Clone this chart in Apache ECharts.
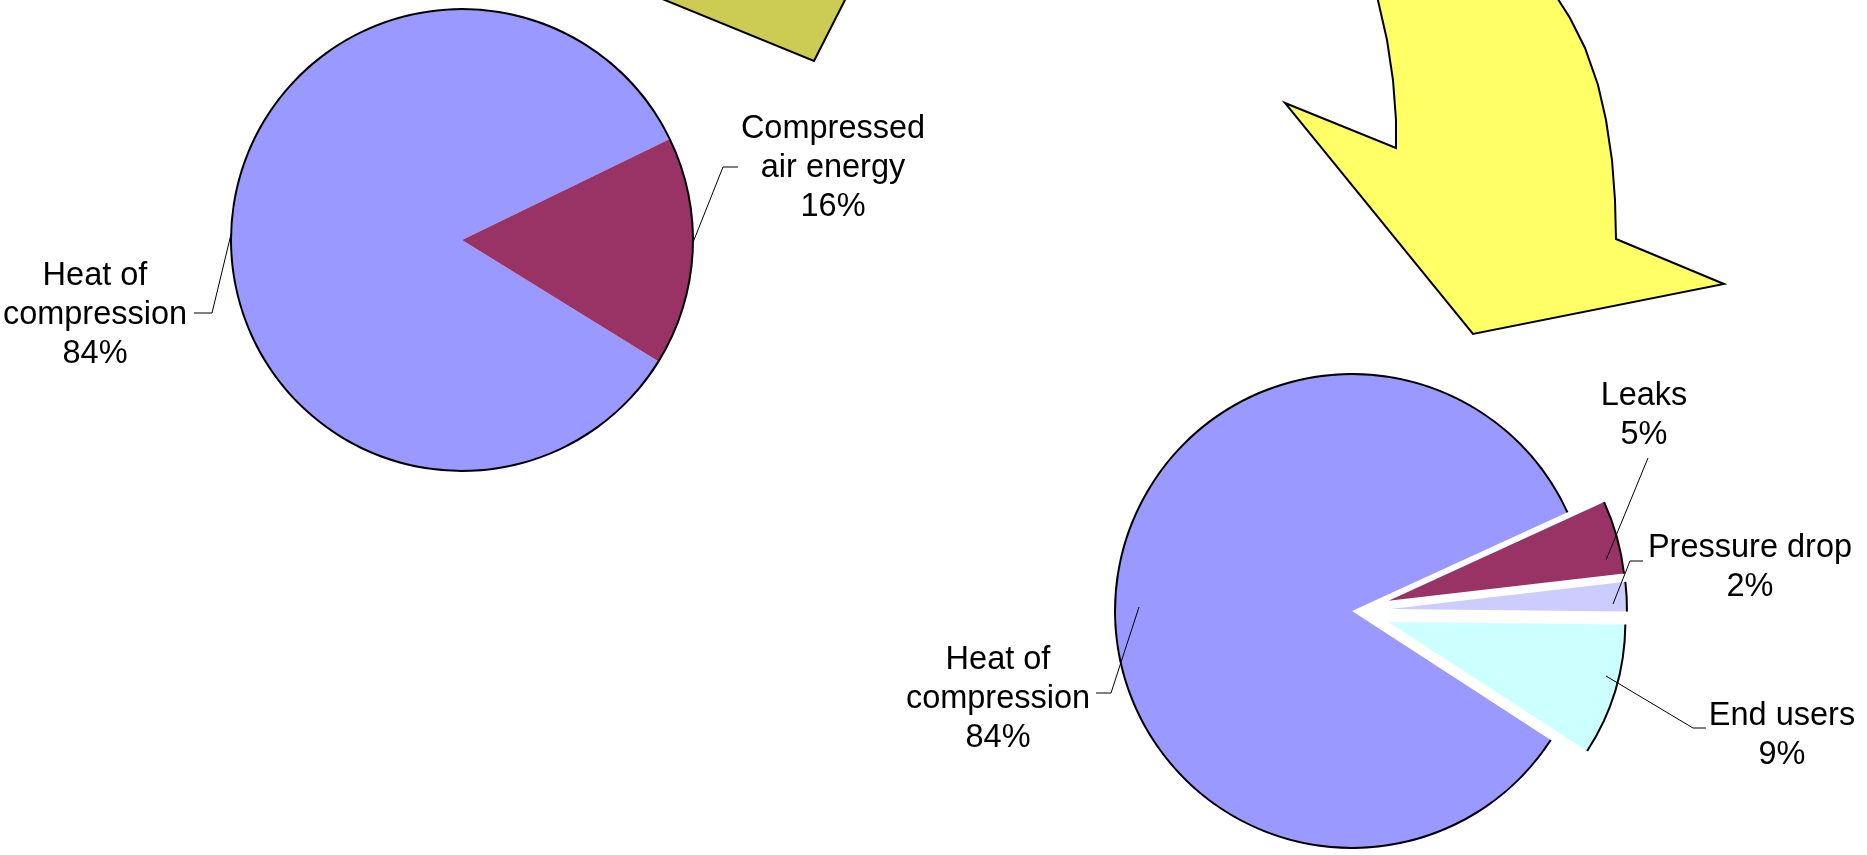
<!DOCTYPE html>
<html>
<head>
<meta charset="utf-8">
<script src="https://cdn.jsdelivr.net/npm/echarts@6/dist/echarts.min.js"></script>
<style>
  html, body { margin: 0; padding: 0; background: #fff; }
  #chart { width: 1867px; height: 855px; }
</style>
</head>
<body>
<div id="chart"></div>
<script>
// ---- data ----
const beforeNames = ['Heat of\ncompression', 'Compressed\nair energy'];
const beforeValues = [84, 16];
const beforeColors = ['#9999FF', '#993366'];

const afterNames = ['Heat of\ncompression', 'Leaks', 'Pressure drop', 'End users'];
const afterValues = [84, 5, 2, 9];
const afterColors = ['#9999FF', '#993366', '#CCCCFF', '#CCFFFF'];
const afterExploded = [false, true, true, true];

// ---- layout (label anchors and leader lines, px) ----
const leftLabelPos = [[95, 315], [833, 168]];
const leftLines = [
  [[233, 226], [212, 313], [194, 313]],
  [[690, 250], [723, 167], [738, 167]]
];
const rightLabelPos = [[998, 699], [1644, 416], [1750, 568], [1782, 736]];
const rightLines = [
  [[1139, 607], [1111, 693], [1096, 693]],
  [[1648, 458], [1648, 458], [1606, 560]],
  [[1643, 561], [1630, 561], [1613, 604]],
  [[1606, 676], [1693, 728], [1706, 728]]
];

// decorative arrows
const oliveArrow = [[655, -4], [814, 61], [847, -4]];
const yellowArrow = [
  [1377, -4], [1387, 40], [1393, 80], [1396, 120], [1396, 148],
  [1285, 103], [1473, 334], [1724, 284], [1616, 239],
  [1615, 200], [1612, 160], [1606, 120], [1598, 85], [1585, 48], [1570, 18], [1556, -4]
];

const FONT = '"Liberation Sans", Arial, sans-serif';

const chart = echarts.init(document.getElementById('chart'));

const labelStyle = {
  show: true,
  position: 'outside',
  color: '#000',
  fontFamily: FONT,
  fontSize: 32.5,
  lineHeight: 39,
  align: 'center',
  formatter: p => p.name + '\n' + Math.round(p.percent) + '%'
};
const lineStyle = { show: true, lineStyle: { color: '#000', width: 1 } };

function layoutFor(pos, lines) {
  return params => ({
    x: pos[params.dataIndex][0],
    y: pos[params.dataIndex][1],
    align: 'center',
    verticalAlign: 'middle',
    labelLinePoints: lines[params.dataIndex]
  });
}

function basePie(center, radius, startAngle, extra) {
  return Object.assign({
    type: 'pie',
    center: center,
    radius: radius,
    startAngle: startAngle,
    clockwise: true,
    silent: true,
    animation: false,
    avoidLabelOverlap: false,
    percentPrecision: 0,
    emphasis: { disabled: true },
    label: { show: false },
    labelLine: { show: false }
  }, extra);
}

const leftC = [462, 240], leftR = 231, leftStart = 328.3;
const rightC = [1352, 611], rightR = 237, rightStart = 327;
const OFFSET = 38;

chart.setOption({
  backgroundColor: '#fff',
  graphic: [
    {
      type: 'polygon',
      shape: { points: oliveArrow },
      style: { fill: '#CCCC55', stroke: '#000', lineWidth: 2 }
    },
    {
      type: 'polygon',
      shape: { points: yellowArrow },
      style: { fill: '#FFFF66', stroke: '#000', lineWidth: 2 }
    }
  ],
  series: [
    // left pie
    basePie(leftC, leftR, leftStart, {
      data: beforeNames.map((n, i) => ({
        name: n, value: beforeValues[i],
        itemStyle: { color: beforeColors[i], borderWidth: 0 }
      })),
      label: labelStyle,
      labelLine: lineStyle,
      labelLayout: layoutFor(leftLabelPos, leftLines)
    }),
    // left outline
    basePie(leftC, [leftR - 1, leftR + 1], leftStart, {
      data: beforeNames.map((n, i) => ({
        name: n, value: beforeValues[i],
        itemStyle: { color: '#000', borderWidth: 0 }
      }))
    }),
    // right pie, exploded slices
    basePie(rightC, rightR, rightStart, {
      selectedMode: 'multiple',
      selectedOffset: OFFSET,
      data: afterNames.map((n, i) => ({
        name: n, value: afterValues[i], selected: afterExploded[i],
        itemStyle: { color: afterColors[i], borderWidth: 0 }
      }))
    }),
    // right outline
    basePie(rightC, [rightR - 1, rightR + 1], rightStart, {
      selectedMode: 'multiple',
      selectedOffset: OFFSET,
      data: afterNames.map((n, i) => ({
        name: n, value: afterValues[i], selected: afterExploded[i],
        itemStyle: { color: '#000', borderWidth: 0 }
      }))
    }),
    // right labels
    basePie(rightC, rightR, rightStart, {
      z: 5,
      data: afterNames.map((n, i) => ({
        name: n, value: afterValues[i],
        itemStyle: { color: 'rgba(0,0,0,0)', borderWidth: 0 }
      })),
      label: labelStyle,
      labelLine: lineStyle,
      labelLayout: layoutFor(rightLabelPos, rightLines)
    })
  ]
});
</script>
</body>
</html>
